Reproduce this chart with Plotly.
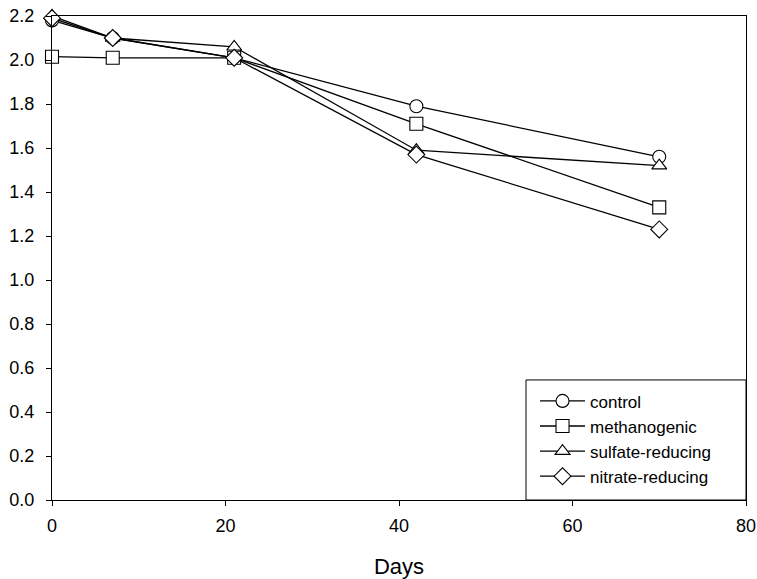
import plotly.graph_objects as go

days = [0, 7, 21, 42, 70]
control = [2.18, 2.10, 2.01, 1.79, 1.56]
methanogenic = [2.015, 2.01, 2.01, 1.71, 1.33]
sulfate_reducing = [2.20, 2.10, 2.06, 1.59, 1.52]
nitrate_reducing = [2.19, 2.10, 2.01, 1.57, 1.23]
x_ticks = [0, 20, 40, 60, 80]
y_ticks = [round(i * 0.2, 1) for i in range(12)]

series = [
    ("control", control, "circle"),
    ("methanogenic", methanogenic, "square"),
    ("sulfate-reducing", sulfate_reducing, "triangle-up"),
    ("nitrate-reducing", nitrate_reducing, "diamond"),
]

fam = "Liberation Sans, Arial, sans-serif"
fig = go.Figure()
for name, vals, sym in series:
    fig.add_trace(go.Scatter(
        x=days, y=vals, name=name, mode="lines+markers",
        line=dict(color="black", width=1.3),
        marker=dict(symbol=sym, size=13,
                    color="white", line=dict(color="black", width=1.1)),
        cliponaxis=False,
    ))

fig.update_layout(
    width=757, height=579,
    margin=dict(l=52, r=11, t=16, b=79),
    paper_bgcolor="white", plot_bgcolor="white",
    font=dict(family=fam, size=18, color="black"),
    showlegend=True,
    legend=dict(x=0.696, y=0.241, xanchor="left", yanchor="top",
                borderwidth=0, bgcolor="rgba(0,0,0,0)",
                font=dict(family=fam, size=17),
                tracegroupgap=0, itemwidth=45),
    shapes=[dict(type="rect", xref="paper", yref="paper",
                 x0=0.683, x1=1.0, y0=0.0, y1=0.248,
                 line=dict(color="black", width=1), fillcolor="white",
                 layer="below")],
    xaxis=dict(range=[0, 80], tickvals=x_ticks,
               ticks="outside", ticklen=5, tickcolor="black",
               tickfont=dict(family=fam, size=18), ticklabelstandoff=4,
               showline=True, linecolor="black", linewidth=1, mirror=True,
               showgrid=False, zeroline=False, automargin=False,
               title=dict(text="Days", standoff=27,
                          font=dict(family=fam, size=22))),
    yaxis=dict(range=[0, 2.2], tickvals=y_ticks,
               ticktext=[f"{v:.1f}" for v in y_ticks],
               ticks="outside", ticklen=5, tickcolor="black",
               tickfont=dict(family=fam, size=18), ticklabelstandoff=8,
               showline=True, linecolor="black", linewidth=1, mirror=True,
               showgrid=False, zeroline=False, automargin=False),
)

fig.write_html(
    "out.html",
    config={"displayModeBar": False},
    post_script="document.body.style.margin='0';document.body.style.overflow='hidden';",
)
